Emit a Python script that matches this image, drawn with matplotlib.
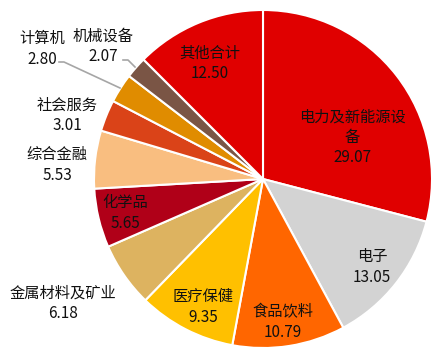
import matplotlib
matplotlib.use("Agg")
import matplotlib.pyplot as plt

plt.rcParams['font.family'] = ['Noto Sans CJK SC', 'DejaVu Sans']

categories = ['电力及新能源设备', '电子', '食品饮料', '医疗保健', '金属材料及矿业',
              '化学品', '综合金融', '社会服务', '计算机', '机械设备', '其他合计']
values = [29.07, 13.05, 10.79, 9.35, 6.18, 5.65, 5.53, 3.01, 2.80, 2.07, 12.50]
display_names = ['电力及新能源设\n备', '电子', '食品饮料', '医疗保健', '金属材料及矿业',
                 '化学品', '综合金融', '社会服务', '计算机', '机械设备', '其他合计']
colors = ['#E00000', '#D3D3D3', '#FF6600', '#FFC000', '#DDB360',
          '#B00018', '#F9BE80', '#DA4318', '#E08C00', '#7A5545', '#E00000']

W, H = 438, 354
CX, CY, R = 263, 179, 169

fig = plt.figure(figsize=(W / 100, H / 100), dpi=100)
ax = fig.add_axes([0, 0, 1, 1])

ax.pie(values, colors=colors, startangle=90, counterclock=False, radius=1,
       wedgeprops=dict(edgecolor='white', linewidth=1.5))
ax.set_aspect('auto')
ax.set_xlim(-CX / R, (W - CX) / R)
ax.set_ylim((CY - H) / R, CY / R)
ax.axis('off')

def px(x, y):
    return ((x - CX) / R, (CY - y) / R)

# label centre positions in pixels (layout only)
label_pos = [(352, 137), (372, 267), (283, 322), (203, 307), (63, 303),
             (125, 213), (57, 165), (67, 115), (42, 49), (103, 46), (210, 63)]
tc = '#111111'
for name, val, (x, y) in zip(display_names, values, label_pos):
    ax.text(*px(x, y), f"{name}\n{val:.2f}", ha='center', va='center',
            fontsize=11, color=tc, linespacing=1.25)

# leader lines
lc = '#A6A6A6'
for pts in [[(59, 62), (64, 62), (120, 88)], [(123, 60), (128, 60), (135, 67)]]:
    xs, ys = zip(*[px(a, b) for a, b in pts])
    ax.plot(xs, ys, color=lc, linewidth=1.2)

fig.savefig('out.png', dpi=100)
